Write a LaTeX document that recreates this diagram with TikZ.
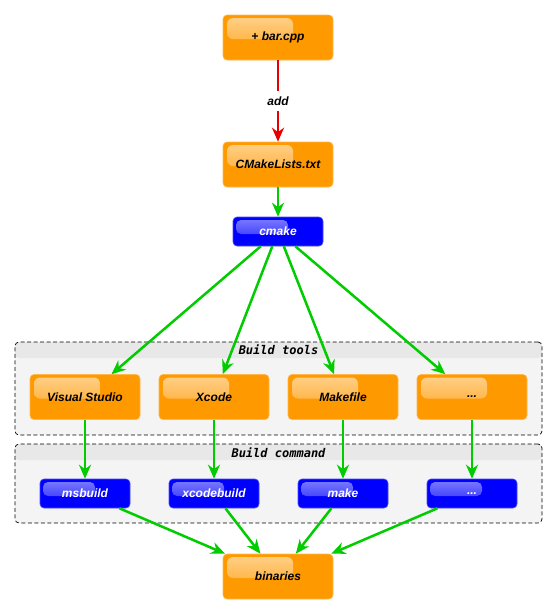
\documentclass[tikz,border=0pt]{standalone}
\usepackage{fontspec}
\setmainfont{Liberation Sans}
\newfontfamily\clustermono{DejaVu Sans Mono}
\usetikzlibrary{arrows.meta}
\definecolor{boxorange}{RGB}{255,153,0}
\definecolor{boxblue}{RGB}{0,0,255}
\definecolor{flowgreen}{RGB}{0,204,0}
\definecolor{flowred}{RGB}{232,0,0}
\definecolor{clusterbg}{RGB}{244,244,244}
\definecolor{clusterhead}{RGB}{232,232,232}
\newcommand{\nodeFont}{\fontsize{12}{14}\selectfont\bfseries\itshape}
\newcommand{\clusterFont}{\fontsize{12}{14}\selectfont\clustermono\bfseries\itshape}

\begin{document}
\begin{tikzpicture}[x=1pt,y=-1pt,
  filebox/.style={draw=boxorange!70!white, line width=0.6pt, fill=boxorange, rounded corners=4pt,
    minimum width=110pt, minimum height=45pt, inner sep=0pt, font=\nodeFont,
    path picture={\shade[top color=white!55!boxorange, bottom color=white!8!boxorange, rounded corners=6pt]
      ([shift={(4pt,-3pt)}]path picture bounding box.north west) rectangle ++(66pt,-21pt);}},
  toolbox/.style={draw=boxblue!70!white, line width=0.6pt, fill=boxblue, text=white, rounded corners=4pt,
    minimum width=90pt, minimum height=29pt, inner sep=0pt, font=\nodeFont,
    path picture={\shade[top color=white!50!boxblue, bottom color=white!12!boxblue, rounded corners=5pt]
      ([shift={(3pt,-3pt)}]path picture bounding box.north west) rectangle ++(52pt,-14pt);}},
  cluster/.style={draw=black, dash pattern=on 4pt off 2.5pt, line width=0.7pt, fill=clusterbg,
    rounded corners=4pt, minimum width=527pt, inner sep=0pt,
    path picture={\fill[clusterhead]
      (path picture bounding box.north west) rectangle ([yshift=-16pt]path picture bounding box.north east);}},
  flow/.style={draw=flowgreen, line width=2.5pt, -{Stealth[length=14pt,width=12pt,inset=4.5pt]}},
  addflow/.style={flow, draw=flowred}]
\useasboundingbox (0,0) rectangle (557,614);

% clusters
\node[cluster, minimum height=93pt] (tools) at (278.5,388.5) {};
\node[font=\clusterFont, inner sep=0pt] (toolslbl) at ([yshift=-8pt]tools.north) {Build tools};
\node[cluster, minimum height=79pt] (commands) at (278.5,483.5) {};
\node[font=\clusterFont, inner sep=0pt] (commandslbl) at ([yshift=-9pt]commands.north) {Build command};

% sources
\node[filebox] (barcpp) at (278,37.5) {+ bar.cpp};
\node[filebox] (lists) at (278,164.5) {CMakeLists.txt};
\node[toolbox] (cmake) at (278,231.5) {cmake};

% generators
\node[filebox] (vs) at (85,397) {Visual Studio};
\node[filebox] (xcode) at (214,397) {Xcode};
\node[filebox] (makefile) at (343,397) {Makefile};
\node[filebox] (othergen) at (472,397) {...};

% build commands
\node[toolbox] (msbuild) at (85,493.5) {msbuild};
\node[toolbox] (xcodebuild) at (214,493.5) {xcodebuild};
\node[toolbox] (make) at (343,493.5) {make};
\node[toolbox] (othercmd) at (472,493.5) {...};

\node[filebox] (binaries) at (278,576.5) {binaries};

\draw[addflow] (barcpp) -- node[fill=white, inner sep=6pt, font=\nodeFont] (addlbl) {add} (lists);
\draw[flow] (lists) -- (cmake);
\foreach \gen/\cmd in {vs/msbuild, xcode/xcodebuild, makefile/make, othergen/othercmd} {
  \draw[flow] (cmake) -- (\gen);
  \draw[flow] (\gen) -- (\cmd);
  \draw[flow] (\cmd) -- (binaries);
}
\end{tikzpicture}
\end{document}
